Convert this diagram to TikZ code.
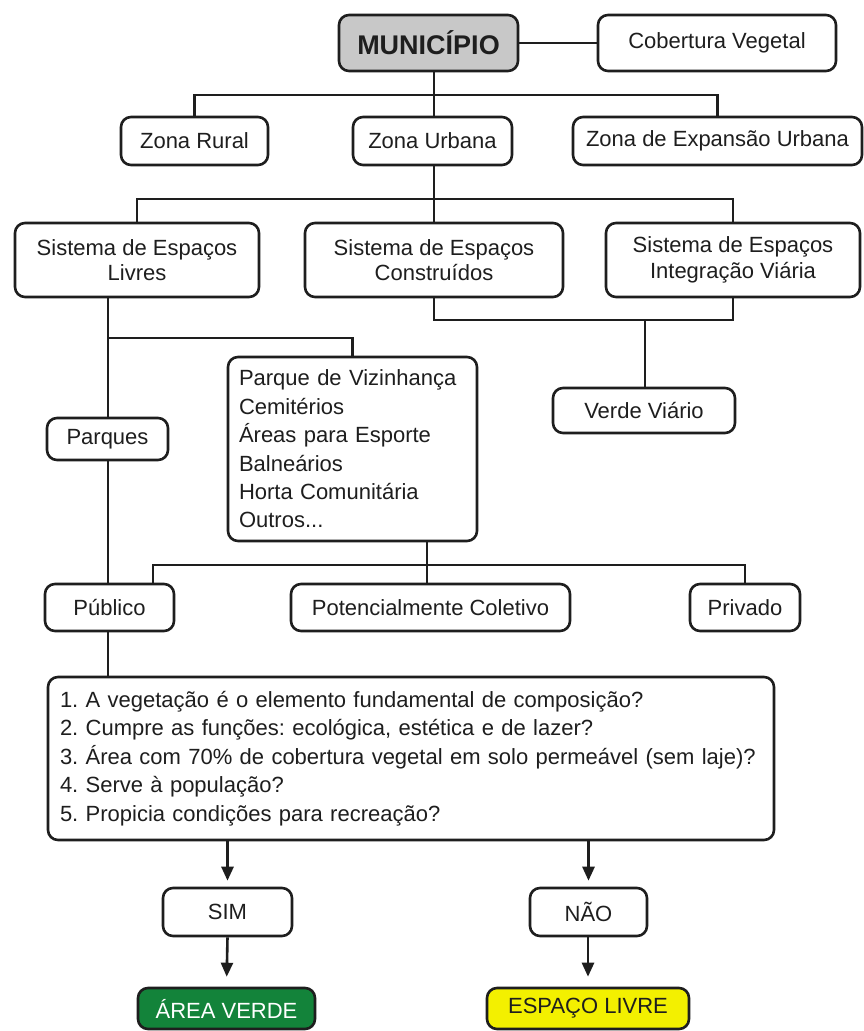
\documentclass[tikz,border=0pt]{standalone}
\usepackage{fontspec}
\setmainfont{Liberation Sans}
\usetikzlibrary{arrows.meta}
\definecolor{ink}{HTML}{1E1E1E}
\definecolor{boxgray}{HTML}{C8C8C8}
\definecolor{verde}{HTML}{13833A}
\definecolor{amarelo}{HTML}{F3F000}
\frenchspacing
\begin{document}
\begin{tikzpicture}[x=1pt,y=-1pt,
  bx/.style={draw=ink, line width=2.6pt, rounded corners=10pt, fill=white, inner sep=0pt,
             align=center, text=ink, font=\fontsize{22}{25.5}\selectfont},
  listbox/.style={bx, align=left, inner ysep=0pt, font=\fontsize{22}{28.4}\selectfont},
  conn/.style={draw=ink, line width=2.6pt},
  arr/.style={conn, -{Triangle[length=14pt,width=12pt]}}]
\useasboundingbox[fill=white] (0,0) rectangle (864,1031);

% boxes
\node[bx, fill=boxgray, minimum width=179pt, minimum height=56pt, font=\fontsize{27}{30}\selectfont\bfseries] (mun) at (428.5,43) {MUNICÍPIO};
\node[bx, minimum width=238pt, minimum height=56pt] (cob) at (717,43) {Cobertura Vegetal};

\node[bx, minimum width=147pt, minimum height=48pt] (rural) at (194.5,141) {Zona Rural};
\node[bx, minimum width=159pt, minimum height=48pt] (urb) at (432.5,141) {Zona Urbana};
\node[bx, minimum width=289pt, minimum height=48pt] (exp) at (717.5,141) {Zona de Expansão Urbana};

\node[bx, minimum width=244pt, minimum height=74pt] (livres) at (137,260) {Sistema de Espaços\\Livres};
\node[bx, minimum width=258pt, minimum height=74pt] (constr) at (434,260) {Sistema de Espaços\\Construídos};
\node[bx, minimum width=254pt, minimum height=74pt] (integ) at (733,260) {Sistema de Espaços\\Integração Viária};

\node[bx, minimum width=182pt, minimum height=45pt] (verde) at (644,410.5) {Verde Viário};

\node[listbox, text width=227pt, inner xsep=11pt, minimum height=184pt] (list) at (352.5,449)
  {Parque de Vizinhança\\Cemitérios\\Áreas para Esporte\\Balneários\\Horta Comunitária\\Outros...};

\node[bx, minimum width=121pt, minimum height=42pt] (parques) at (107.5,439) {Parques};

\node[bx, minimum width=129pt, minimum height=47pt] (publico) at (109.5,607.5) {Público};
\node[bx, minimum width=279pt, minimum height=47pt] (coletivo) at (430.5,607.5) {Potencialmente Coletivo};
\node[bx, minimum width=110pt, minimum height=47pt] (privado) at (745,607.5) {Privado};

\node[listbox, text width=702pt, inner xsep=12pt, minimum height=163pt] (quest) at (411,758.5)
  {1. A vegetação é o elemento fundamental de composição?\\
   2. Cumpre as funções: ecológica, estética e de lazer?\\
   3. Área com 70\% de cobertura vegetal em solo permeável (sem laje)?\\
   4. Serve à população?\\
   5. Propicia condições para recreação?};

\node[bx, minimum width=129pt, minimum height=48pt] (sim) at (227.5,912) {SIM};
\node[bx, minimum width=117pt, minimum height=48pt] (nao) at (588.5,912) {NÃO};

\node[bx, fill=verde, text=white, minimum width=177pt, minimum height=41pt] (av) at (226.5,1008.5) {ÁREA VERDE};
\node[bx, fill=amarelo, minimum width=202pt, minimum height=41pt] (el) at (588,1008.5) {ESPAÇO LIVRE};

% connectors
\draw[conn] (mun) -- (cob);
\coordinate (j1) at (434,95);
\draw[conn] (mun.south -| j1) -- (j1);
\draw[conn] (rural.north) -- (rural.north |- j1) -- (exp.north |- j1) -- (exp.north);
\draw[conn] (j1) -- (urb.north -| j1);

\coordinate (j2) at (434,199);
\draw[conn] (urb.south -| j2) -- (j2);
\draw[conn] (livres.north) -- (livres.north |- j2) -- (integ.north |- j2) -- (integ.north);
\draw[conn] (j2) -- (constr.north -| j2);

\coordinate (j3) at (645,320);
\draw[conn] (constr.south) -- (constr.south |- j3) -- (integ.south |- j3) -- (integ.south);
\draw[conn] (j3) -- (verde.north -| j3);

\coordinate (j4) at (108,338);
\draw[conn] (livres.south -| j4) -- (parques.north -| j4);
\draw[conn] (j4) -- (list.north |- j4) -- (list.north);
\draw[conn] (parques.south -| j4) -- (publico.north -| j4);

\coordinate (j5) at (427,565);
\coordinate (j5a) at (153,565);
\draw[conn] (list.south -| j5) -- (coletivo.north -| j5);
\draw[conn] (publico.north -| j5a) -- (j5a) -- (privado.north |- j5) -- (privado.north);
\draw[conn] (publico.south -| j4) -- (quest.north -| j4);

\draw[arr, shorten >=6pt] (quest.south -| sim) -- (sim.north);
\draw[arr, shorten >=6pt] (quest.south -| nao) -- (nao.north);
\draw[arr, shorten >=10pt] (sim.south) -- (av.north);
\draw[arr, shorten >=10pt] (nao.south -| el) -- (el.north);
\end{tikzpicture}
\end{document}
